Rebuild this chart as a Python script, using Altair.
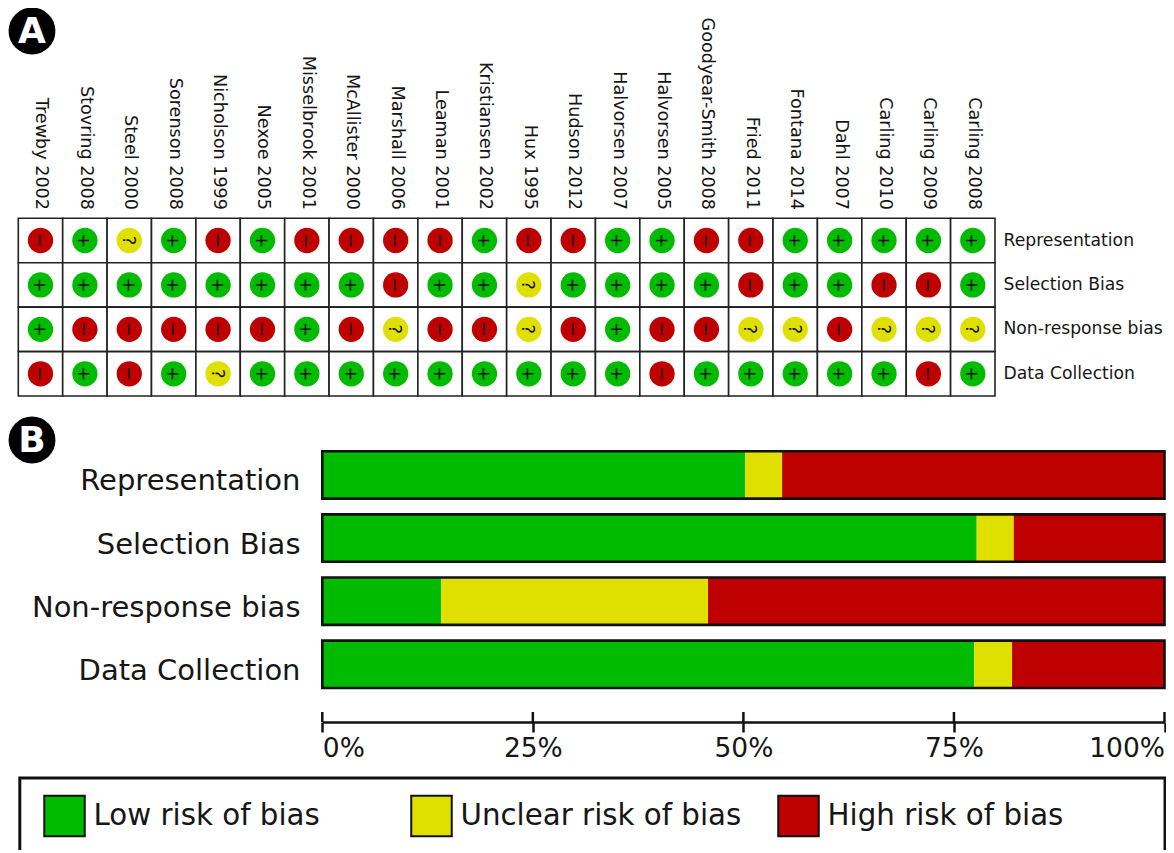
import altair as alt
import pandas as pd

studies = ["Trewby 2002", "Stovring 2008", "Steel 2000", "Sorenson 2008", "Nicholson 1999", "Nexoe 2005",
           "Misselbrook 2001", "McAllister 2000", "Marshall 2006", "Leaman 2001", "Kristiansen 2002", "Hux 1995",
           "Hudson 2012", "Halvorsen 2007", "Halvorsen 2005", "Goodyear-Smith 2008", "Fried 2011", "Fontana 2014",
           "Dahl 2007", "Carling 2010", "Carling 2009", "Carling 2008"]
domains = ["Representation", "Selection Bias", "Non-response bias", "Data Collection"]
judgements = {
    "Representation":    list("HLULHLHHHHLHHLLHHLLLLL"),
    "Selection Bias":    list("LLLLLLLLHLLULLLLHLLHHL"),
    "Non-response bias": list("LHHHHHLHUHHUHLHHUUHUUU"),
    "Data Collection":   list("HLHLULLLLLLLLLHLLLLLHL"),
}
risk_names = ["Low risk of bias", "Unclear risk of bias", "High risk of bias"]
risk_colors = ["#00bb00", "#e0e000", "#bf0000"]
code_name = {"L": risk_names[0], "U": risk_names[1], "H": risk_names[2]}
code_symbol = {"L": "+", "U": "?", "H": "\u2212"}

low_pct = [50.2, 77.7, 14.1, 77.4]
unclear_pct = [4.4, 4.4, 31.7, 4.5]
high_pct = [45.4, 17.9, 54.2, 18.1]
tick_values = [0, 25, 50, 75, 100]
badges = ["A", "B"]

FONT = "DejaVu Sans"
INK = "#161616"
W, H = 1158, 842

cells = pd.DataFrame([
    {"study": s, "domain": d, "risk": code_name[judgements[d][i]], "symbol": code_symbol[judgements[d][i]]}
    for d in domains for i, s in enumerate(studies)
])
segments = []
for d, l, u, h in zip(domains, low_pct, unclear_pct, high_pct):
    start = 0
    for name, v in zip(risk_names, (l, u, h)):
        segments.append({"domain": d, "risk": name, "start": start, "end": start + v})
        start += v
segments = pd.DataFrame(segments)
frames = pd.DataFrame({"domain": domains, "start": [0] * 4, "end": [100] * 4})
ticks = pd.DataFrame({"tick": tick_values})
legend_df = pd.DataFrame({"risk": risk_names})
badge_df = pd.DataFrame({"badge": badges})

color = alt.Color("risk:N", scale=alt.Scale(domain=risk_names, range=risk_colors), legend=None)


def grid_x(axis=None):
    return alt.X("study:N", sort=None, axis=axis,
                 scale=alt.Scale(domain=studies, range=[10.3, 987], paddingInner=0, paddingOuter=0, round=False))


def grid_y(axis=None):
    return alt.Y("domain:N", sort=None, axis=axis,
                 scale=alt.Scale(domain=domains, range=[210.3, 388], paddingInner=0, paddingOuter=0, round=False))


def bar_y(axis=None):
    return alt.Y("domain:N", sort=None, axis=axis,
                 scale=alt.Scale(domain=domains, range=[443.3, 680], paddingInner=0.25, paddingOuter=0, round=False))


def pct_scale():
    return alt.Scale(domain=[0, 100], range=[314.3, 1156.5], nice=False, zero=False)


study_axis = alt.Axis(orient="top", offset=-201.5, title=None, domain=False, ticks=False, grid=False,
                      labelAngle=90, labelAlign="right", labelBaseline="middle", labelPadding=0, labelOffset=1,
                      labelFont=FONT, labelFontSize=17.6, labelColor=INK, labelOverlap=False, labelLimit=400)
domain_axis_a = alt.Axis(orient="right", offset=-163, title=None, domain=False, ticks=False, grid=False,
                         labelPadding=0, labelFont=FONT, labelFontSize=17.2, labelColor=INK, labelLimit=400,
                         labelOverlap=False)
domain_axis_b = alt.Axis(orient="left", offset=-292, title=None, domain=False, ticks=False, grid=False,
                         labelPadding=0, labelFont=FONT, labelFontSize=29, labelColor=INK, labelLimit=500,
                         labelOffset=6.5, labelOverlap=False)
pct_axis = alt.Axis(orient="bottom", offset=-128, title=None, grid=False, values=tick_values,
                    labelExpr="datum.value + '%'", labelFlush=True, labelFont=FONT, labelFontSize=26.5,
                    labelColor=INK, labelPadding=3, tickSize=10, tickWidth=2.5, tickColor="#111",
                    domainWidth=2.5, domainColor="#111")

grid_cells = alt.Chart(cells).mark_rect(fill="white", stroke="#222", strokeWidth=1.6).encode(
    x=grid_x(study_axis), y=grid_y(domain_axis_a))
dots = alt.Chart(cells).mark_point(filled=True, shape="circle", size=640, opacity=1).encode(
    x=grid_x(), y=grid_y(), color=color)
symbols = alt.Chart(cells).mark_text(font=FONT, fontSize=18, angle=90, color="#111", baseline="middle",
                                     align="center", dy=1.5).encode(
    x=grid_x(), y=grid_y(), text="symbol:N")

bars = alt.Chart(segments).mark_bar().encode(
    x=alt.X("start:Q", scale=pct_scale(), axis=pct_axis), x2="end:Q",
    y=bar_y(domain_axis_b), color=color)
bar_frames = alt.Chart(frames).mark_bar(fillOpacity=0, stroke="#111", strokeWidth=2.6).encode(
    x=alt.X("start:Q", scale=pct_scale(), axis=None), x2="end:Q", y=bar_y())
upper_ticks = alt.Chart(ticks).mark_rule(color="#111", strokeWidth=2.5).encode(
    x=alt.X("tick:Q", scale=pct_scale(), axis=None), y=alt.value(704), y2=alt.value(714))

legend_box = alt.Chart(badge_df.head(1)).mark_rect(fillOpacity=0, stroke="#111", strokeWidth=3).encode(
    x=alt.value(11.8), x2=alt.value(1157), y=alt.value(770), y2=alt.value(900))


def legend_x():
    return alt.X("risk:N", sort=None, axis=None,
                 scale=alt.Scale(domain=risk_names, range=[56.5, 790.5], padding=0))


legend_swatches = alt.Chart(legend_df).mark_point(filled=True, shape="square", size=1640, opacity=1,
                                                  stroke="#111", strokeWidth=2).encode(
    x=legend_x(), y=alt.value(808), color=color)
legend_labels = alt.Chart(legend_df).mark_text(font=FONT, fontSize=29.3, align="left", baseline="middle",
                                               dx=29, color=INK).encode(
    x=legend_x(), y=alt.value(808), text="risk:N")


def badge_y():
    return alt.Y("badge:N", sort=None, axis=None, scale=alt.Scale(domain=badges, range=[23, 432], padding=0))


badge_dots = alt.Chart(badge_df).mark_point(filled=True, shape="circle", size=2200, color="black", opacity=1).encode(
    x=alt.value(24), y=badge_y())
badge_text = alt.Chart(badge_df).mark_text(font=FONT, fontSize=36, fontWeight="bold", color="white",
                                           align="center", baseline="middle", dy=1).encode(
    x=alt.value(24), y=badge_y(), text="badge:N")

chart = alt.layer(
    grid_cells, dots, symbols, bars, bar_frames, upper_ticks,
    legend_box, legend_swatches, legend_labels, badge_dots, badge_text,
).resolve_scale(x="independent", y="independent", color="shared").resolve_axis(
    x="independent", y="independent"
).properties(
    width=W, height=H, padding=0, background="white",
    autosize=alt.AutoSizeParams(type="none"),
).configure_view(strokeWidth=0)

chart.save("out.html", embed_options={"renderer": "svg", "actions": False})
